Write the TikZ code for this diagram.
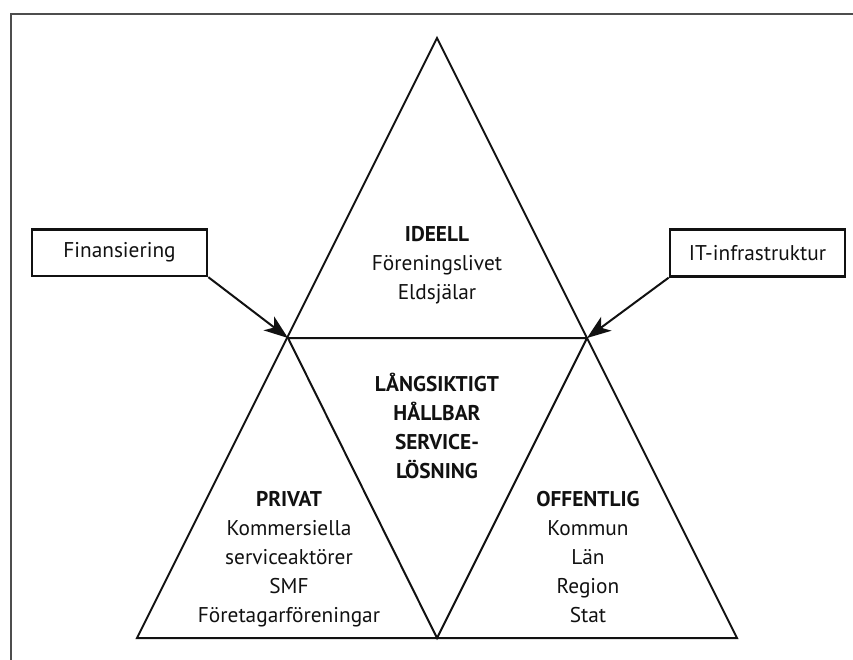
\documentclass[tikz,border=0pt]{standalone}
\usepackage{fontspec}
\setmainfont{PT Sans}
\usetikzlibrary{arrows.meta}
\definecolor{ink}{HTML}{111111}
\definecolor{framegray}{HTML}{4D4D4D}
\tikzset{
  edge/.style={draw=ink, line width=1.5pt, line join=miter},
  inbox/.style={draw=ink, line width=2pt, minimum width=131.25pt, minimum height=35pt,
    inner sep=0pt, font=\fontsize{16}{21.75}\selectfont, text=ink},
  label/.style={align=center, inner sep=0pt, font=\fontsize{16}{21.75}\selectfont, text=ink},
  feed/.style={draw=ink, line width=1.5pt, -{Stealth[length=18pt, width=13pt, inset=5pt]}},
}
\begin{document}
\begin{tikzpicture}[x=0.75pt, y=-0.75pt]
  \useasboundingbox (0,0) rectangle (853,660);
  % frame
  \draw[framegray, line width=1.5pt] (11,661) -- (11,14) -- (854,14);

  % corner points of the three-part triangle
  \coordinate (apex) at (437,38);
  \coordinate (ml) at (288,338);
  \coordinate (mr) at (587,338);
  \coordinate (bl) at (137,638);
  \coordinate (bm) at (437,638);
  \coordinate (br) at (737,638);

  \draw[edge] (apex) -- (bl) -- (br) -- cycle;
  \draw[edge] (ml) -- (mr) -- (bm) -- cycle;

  % sector texts
  \node[label] (ideell) at (437,265) {\textbf{IDEELL}\\Föreningslivet\\Eldsjälar};
  \node[label] (mitt) at (437,426) {\textbf{LÅNGSIKTIGT}\\\textbf{HÅLLBAR}\\\textbf{SERVICE-}\\\textbf{LÖSNING}};
  \node[label] (privat) at (289,559) {\textbf{PRIVAT}\\Kommersiella\\serviceaktörer\\SMF\\Företagarföreningar};
  \node[label] (offentlig) at (588,557) {\textbf{OFFENTLIG}\\Kommun\\Län\\Region\\Stat};

  % inputs
  \node[inbox] (fin) at (119.5,252.5) {Finansiering};
  \node[inbox] (it) at (757.5,253) {IT-infrastruktur};
  \draw[feed] (fin.south east) -- (ml);
  \draw[feed] (it.south west) -- (mr);
\end{tikzpicture}
\end{document}
